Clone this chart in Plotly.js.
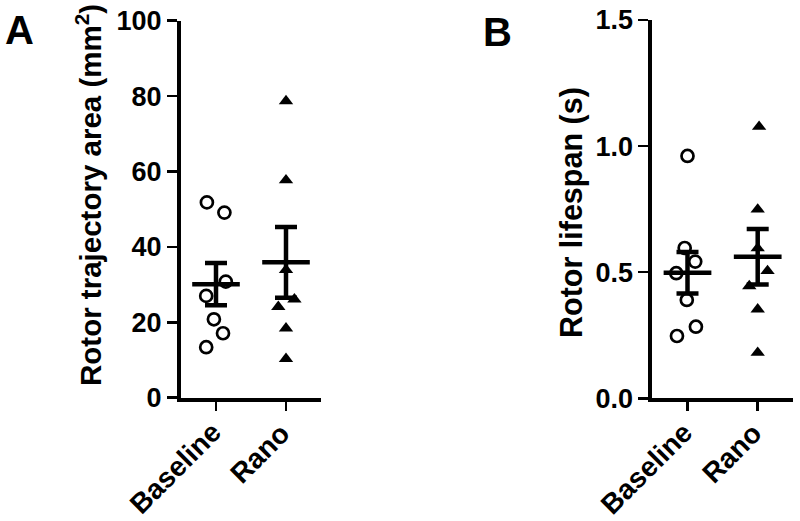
<!DOCTYPE html>
<html>
<head>
<meta charset="utf-8">
<script src="https://cdn.plot.ly/plotly-3.0.1.min.js"></script>
<style>html,body{margin:0;padding:0;background:#fff;}#chart{width:800px;height:521px;}</style>
</head>
<body>
<div id="chart"></div>
<script>
// ---- data ----
const groups = ["Baseline", "Rano"];

// Panel A: rotor trajectory area (mm^2)
const areaBaseline = [51.8, 49.1, 30.8, 27.0, 20.8, 17.1, 13.4];
const areaRano     = [78.7, 57.7, 33.9, 26.1, 24.1, 18.4, 10.3];
const areaMean     = [30.1, 35.9];
const areaSEM      = [5.6, 9.4];

// Panel B: rotor lifespan (s)
const lifeBaseline = [0.961, 0.596, 0.542, 0.496, 0.390, 0.284, 0.247];
const lifeRano     = [1.077, 0.749, 0.595, 0.505, 0.445, 0.353, 0.181];
const lifeMean     = [0.498, 0.561];
const lifeSEM      = [0.082, 0.110];

// horizontal scatter (jitter) of the dots, in category units
const jitAreaBaseline = [-0.13, 0.12, 0.14, -0.14, -0.03, 0.10, -0.14];
const jitAreaRano     = [0, 0, 0, 0.12, -0.11, 0, 0];
const jitLifeBaseline = [0.00, -0.04, 0.11, -0.16, -0.01, 0.12, -0.15];
const jitLifeRano     = [0.02, 0, 0, 0.14, -0.12, 0, 0];

const titleA = "Rotor trajectory area (mm<sup>2</sup>)";
const titleB = "Rotor lifespan (s)";

// ---- build traces ----
const FONT = "Liberation Sans, Arial, sans-serif";
const HALF = 0.34;

function dots(vals, jit, gi, sym, xa, ya) {
  return {
    type: "scatter", mode: "markers", xaxis: xa, yaxis: ya,
    x: vals.map((v, i) => gi + jit[i]), y: vals,
    cliponaxis: false, hoverinfo: "y",
    marker: sym === "circle"
      ? {symbol: "circle-open", size: 12, color: "#000", line: {width: 2.7, color: "#000"}}
      : {symbol: "triangle-up", size: 12.5, color: "#000", line: {width: 0}}
  };
}
function meanLines(means, xa, ya) {
  const x = [], y = [];
  means.forEach((m, i) => { x.push(i - HALF, i + HALF, null); y.push(m, m, null); });
  return {type: "scatter", mode: "lines", xaxis: xa, yaxis: ya, x, y,
          line: {color: "#000", width: 4.5}, hoverinfo: "skip", cliponaxis: false};
}
function semBars(means, sems, xa, ya) {
  return {type: "scatter", mode: "markers", xaxis: xa, yaxis: ya,
          x: means.map((m, i) => i), y: means,
          marker: {size: 1, color: "rgba(0,0,0,0)"},
          error_y: {type: "data", array: sems, visible: true, color: "#000", thickness: 4.5, width: 11},
          hoverinfo: "skip", cliponaxis: false};
}

const traces = [
  dots(areaBaseline, jitAreaBaseline, 0, "circle", "x", "y"),
  dots(areaRano, jitAreaRano, 1, "triangle", "x", "y"),
  semBars(areaMean, areaSEM, "x", "y"),
  meanLines(areaMean, "x", "y"),
  dots(lifeBaseline, jitLifeBaseline, 0, "circle", "x2", "y2"),
  dots(lifeRano, jitLifeRano, 1, "triangle", "x2", "y2"),
  semBars(lifeMean, lifeSEM, "x2", "y2"),
  meanLines(lifeMean, "x2", "y2")
];

const W = 800, H = 521;
const yTickFont = {family: FONT, size: 27, color: "#000", weight: "bold"};
const xTickFont = {family: FONT, size: 28, color: "#000", weight: "bold"};

function xAxis(l, r, anchor) {
  return {domain: [l / W, r / W], range: [-0.5, 1.5], anchor: anchor,
          tickvals: [0, 1], ticktext: groups, showticklabels: false,
          showline: true, linewidth: 4, linecolor: "#000", mirror: false,
          ticks: "outside", ticklen: 9, tickwidth: 2.5, tickcolor: "#000",
          showgrid: false, zeroline: false, fixedrange: true};
}
function yAxis(b, t, anchor, range, dtick, fmt) {
  return {domain: [(H - b) / H, (H - t) / H], range: range, anchor: anchor,
          dtick: dtick, tick0: 0, tickformat: fmt,
          showline: true, linewidth: 4, linecolor: "#000",
          ticks: "outside", ticklen: 10, tickwidth: 2.5, tickcolor: "#000",
          showgrid: false, zeroline: false, tickfont: yTickFont, fixedrange: true};
}
function label(text, x, y, size, angle) {
  return {text: text, xref: "paper", yref: "paper", x: x / W, y: 1 - y / H,
          xanchor: "center", yanchor: "middle", textangle: angle, showarrow: false,
          font: {family: FONT, size: size, color: "#000", weight: "bold"}};
}
// slanted category labels under each tick (centre offset from the tick, px)
const catShift = [[-41, 468.5], [-26, 453.5]];
function catLabels(xref) {
  return groups.map((g, i) => ({
    text: g, xref: xref, x: i, xshift: catShift[i][0],
    yref: "paper", y: 1 - catShift[i][1] / H,
    xanchor: "center", yanchor: "middle", textangle: -45, showarrow: false,
    font: xTickFont
  }));
}

const layout = {
  width: W, height: H,
  margin: {l: 0, r: 0, t: 0, b: 0},
  paper_bgcolor: "#fff", plot_bgcolor: "#fff",
  showlegend: false,
  font: {family: FONT, color: "#000"},
  xaxis: xAxis(181, 321, "y"),
  yaxis: yAxis(397.7, 20.7, "x", [0, 100], 20, "d"),
  xaxis2: xAxis(652.4, 792.8, "y2"),
  yaxis2: yAxis(398.3, 20, "x2", [0, 1.5], 0.5, ".1f"),
  annotations: [
    label("A", 19, 30, 40, 0),
    label("B", 497, 32, 40, 0),
    label(titleA, 89, 195, 29.5, -90),
    label(titleB, 571, 213, 30.5, -90)
  ].concat(catLabels("x"), catLabels("x2"))
};

Plotly.newPlot("chart", traces, layout, {staticPlot: true, displayModeBar: false});
</script>
</body>
</html>
